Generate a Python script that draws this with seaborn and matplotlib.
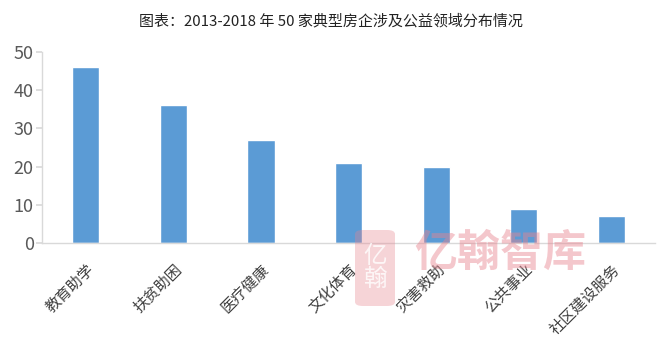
import matplotlib
matplotlib.use("Agg")
import matplotlib.pyplot as plt
from matplotlib.patches import FancyBboxPatch
import seaborn as sns
import pandas as pd

categories = ["教育助学", "扶贫助困", "医疗健康", "文化体育", "灾害救助", "公共事业", "社区建设服务"]
values = [46, 36, 27, 21, 20, 9, 7]
title = "图表：2013-2018 年 50 家典型房企涉及公益领域分布情况"

sns.set_theme(style="white")
plt.rcParams['font.family'] = ['Noto Sans CJK SC', 'DejaVu Sans']

df = pd.DataFrame({"cat": categories, "val": values})

fig = plt.figure(figsize=(6.61, 3.48), dpi=100)
ax = fig.add_axes([0.0635, 0.302, 0.9275, 0.5486])
sns.barplot(data=df, x="cat", y="val", color="#5B9BD5", width=0.31, saturation=1, ax=ax)

ax.set_ylim(0, 50)
ax.set_yticks([0, 10, 20, 30, 40, 50])
ax.set_xlim(-0.5, len(categories) - 0.5)
ax.set_xlabel("")
ax.set_ylabel("")
for s in ["top", "right"]:
    ax.spines[s].set_visible(False)
for s in ["left", "bottom"]:
    ax.spines[s].set_color("#d9d9d9")
    ax.spines[s].set_linewidth(1)
ax.tick_params(axis="y", which="both", left=True, length=4, color="#d9d9d9",
               labelsize=13, labelcolor="#595959", pad=2)
ax.tick_params(axis="x", bottom=False, labelsize=11, labelcolor="#404040", pad=7)
for lab in ax.get_xticklabels():
    lab.set_rotation(45)
    lab.set_ha("right")
    lab.set_rotation_mode("anchor")

fig.text(0.5, 0.94, title, ha="center", va="center", fontsize=10.8, color="#222222")

# watermark
logo = FancyBboxPatch((355 / 661, 1 - 306 / 348), 40 / 661, 76 / 348,
                      boxstyle="round,pad=0.0,rounding_size=0.012",
                      transform=fig.transFigure, facecolor="#e8848f", alpha=0.35,
                      edgecolor="none", zorder=5)
fig.patches.append(logo)
fig.text(375 / 661, 1 - 268 / 348, "亿\n翰", ha="center", va="center", fontsize=17,
         color="white", alpha=0.8, linespacing=0.95, zorder=6)
fig.text(500 / 661, 1 - 253 / 348, "亿翰智库", ha="center", va="center", fontsize=31,
         color="#e8848f", alpha=0.45, fontweight="bold", zorder=6)

fig.savefig("out.png", dpi=100)
